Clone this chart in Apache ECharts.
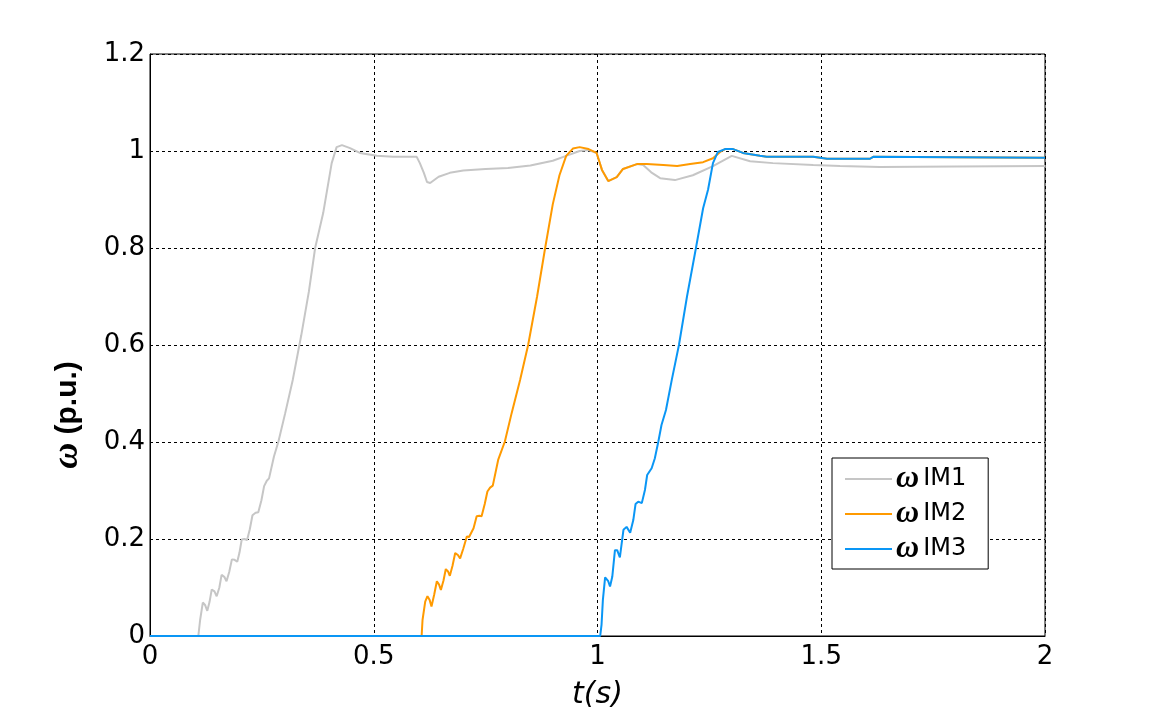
<!DOCTYPE html>
<html>
<head>
<meta charset="utf-8">
<script src="https://cdn.jsdelivr.net/npm/echarts@6/dist/echarts.min.js"></script>
<style>
  html, body { margin: 0; padding: 0; background: #fff; }
  #main { width: 1154px; height: 716px; }
</style>
</head>
<body>
<div id="main"></div>
<script>
// x tick labels and y tick labels
var xTicks = [0, 0.5, 1, 1.5, 2];
var yTicks = [0, 0.2, 0.4, 0.6, 0.8, 1, 1.2];

// IM1 speed (p.u.) vs time (s)
var im1T = [0, 0.108, 0.112, 0.118, 0.123, 0.128, 0.133, 0.138, 0.144, 0.149, 0.155, 0.160, 0.166, 0.171, 0.177, 0.183, 0.189, 0.195, 0.200, 0.205, 0.211, 0.217, 0.223, 0.229, 0.236, 0.242, 0.249, 0.255, 0.261, 0.266, 0.277, 0.287, 0.302, 0.319, 0.338, 0.355, 0.369, 0.387, 0.406, 0.417, 0.429, 0.447, 0.469, 0.507, 0.543, 0.596, 0.603, 0.612, 0.619, 0.626, 0.645, 0.67, 0.70, 0.75, 0.80, 0.85, 0.90, 0.93, 0.96, 0.98, 0.998, 1.01, 1.024, 1.043, 1.057, 1.088, 1.102, 1.12, 1.14, 1.173, 1.213, 1.258, 1.30, 1.341, 1.392, 1.482, 1.542, 1.631, 1.80, 2.0];
var im1V = [0, 0, 0.033, 0.069, 0.064, 0.052, 0.070, 0.096, 0.092, 0.082, 0.100, 0.126, 0.122, 0.113, 0.132, 0.158, 0.157, 0.153, 0.172, 0.199, 0.200, 0.198, 0.220, 0.249, 0.254, 0.255, 0.280, 0.309, 0.320, 0.325, 0.370, 0.401, 0.459, 0.528, 0.62, 0.71, 0.80, 0.872, 0.975, 1.008, 1.012, 1.006, 0.996, 0.990, 0.988, 0.988, 0.975, 0.955, 0.936, 0.934, 0.947, 0.955, 0.960, 0.963, 0.965, 0.970, 0.980, 0.990, 1.000, 1.002, 0.996, 0.961, 0.938, 0.946, 0.963, 0.973, 0.971, 0.956, 0.944, 0.940, 0.950, 0.969, 0.990, 0.979, 0.975, 0.971, 0.969, 0.967, 0.968, 0.969];

// IM2 speed
var im2T = [0, 0.607, 0.609, 0.615, 0.620, 0.625, 0.629, 0.635, 0.641, 0.646, 0.650, 0.656, 0.661, 0.666, 0.670, 0.676, 0.682, 0.688, 0.693, 0.700, 0.708, 0.713, 0.717, 0.723, 0.730, 0.736, 0.741, 0.748, 0.754, 0.760, 0.766, 0.778, 0.793, 0.808, 0.827, 0.845, 0.865, 0.883, 0.90, 0.915, 0.93, 0.945, 0.96, 0.98, 0.998, 1.01, 1.024, 1.043, 1.057, 1.088, 1.11, 1.147, 1.178, 1.207, 1.236, 1.258, 1.274, 1.285, 1.303, 1.325, 1.363, 1.378, 1.482, 1.513, 1.609, 1.616, 1.80, 2.0];
var im2V = [0, 0, 0.033, 0.071, 0.082, 0.074, 0.061, 0.085, 0.113, 0.106, 0.095, 0.115, 0.138, 0.133, 0.124, 0.145, 0.171, 0.167, 0.160, 0.180, 0.205, 0.204, 0.200, 0.222, 0.247, 0.248, 0.247, 0.272, 0.298, 0.306, 0.310, 0.363, 0.401, 0.459, 0.528, 0.60, 0.70, 0.80, 0.89, 0.95, 0.99, 1.005, 1.008, 1.004, 0.996, 0.961, 0.938, 0.946, 0.963, 0.973, 0.973, 0.971, 0.969, 0.973, 0.977, 0.985, 0.998, 1.004, 1.004, 0.996, 0.990, 0.988, 0.988, 0.984, 0.984, 0.988, 0.987, 0.986];

// IM3 speed
var im3T = [0, 1.006, 1.009, 1.012, 1.017, 1.020, 1.024, 1.028, 1.033, 1.039, 1.044, 1.050, 1.058, 1.065, 1.073, 1.080, 1.085, 1.091, 1.099, 1.106, 1.111, 1.121, 1.128, 1.136, 1.143, 1.153, 1.166, 1.182, 1.20, 1.22, 1.236, 1.247, 1.258, 1.269, 1.285, 1.303, 1.325, 1.363, 1.378, 1.482, 1.513, 1.609, 1.616, 1.80, 2.0];
var im3V = [0, 0, 0.023, 0.074, 0.121, 0.124, 0.113, 0.102, 0.122, 0.177, 0.177, 0.162, 0.219, 0.225, 0.213, 0.239, 0.272, 0.277, 0.274, 0.301, 0.332, 0.346, 0.366, 0.401, 0.435, 0.466, 0.528, 0.60, 0.70, 0.80, 0.882, 0.920, 0.975, 0.998, 1.004, 1.004, 0.996, 0.990, 0.988, 0.988, 0.984, 0.984, 0.988, 0.987, 0.986];

function pairs(t, v) {
    return t.map(function (x, i) { return [x, v[i]]; });
}

var tickFont = 'DejaVu Sans, Arial';

var chart = echarts.init(document.getElementById('main'));
var option = {
    animation: false,
    backgroundColor: '#fff',
    grid: {
        left: 150, top: 54, width: 895, height: 582,
        show: true, borderColor: '#000', borderWidth: 1
    },
    xAxis: {
        type: 'value', min: 0, max: 2, interval: 0.5,
        axisLine: { show: true, lineStyle: { color: '#000', width: 1 } },
        axisTick: { show: false },
        axisLabel: {
            color: '#000', fontSize: 26, fontFamily: tickFont, margin: 8,
            formatter: function (v) { return xTicks.indexOf(v) >= 0 ? String(v) : ''; }
        },
        splitLine: { show: true, lineStyle: { color: '#000', type: [3, 3], width: 1 } },
        name: 't(s)', nameLocation: 'middle', nameGap: 44,
        nameTextStyle: { color: '#000', fontSize: 30, fontStyle: 'italic', fontFamily: tickFont }
    },
    yAxis: {
        type: 'value', min: 0, max: 1.2, interval: 0.2,
        axisLine: { show: true, lineStyle: { color: '#000', width: 1 } },
        axisTick: { show: false },
        axisLabel: {
            color: '#000', fontSize: 26, fontFamily: tickFont, margin: 5,
            formatter: function (v) {
                var r = Math.round(v * 10) / 10;
                return yTicks.indexOf(r) >= 0 ? String(r) : '';
            }
        },
        splitLine: { show: true, lineStyle: { color: '#000', type: [3, 3], width: 1 } }
    },
    graphic: [{
        type: 'text',
        x: 68, y: 415,
        rotation: Math.PI / 2,
        style: {
            text: '{w|ω} (p.u.)',
            fill: '#000',
            font: 'bold 30px Liberation Sans, Arial',
            align: 'center',
            verticalAlign: 'middle',
            rich: {
                w: { fontFamily: 'Liberation Serif, Times New Roman', fontStyle: 'italic', fontWeight: 'bold', fontSize: 36, fill: '#000' }
            }
        }
    }],
    legend: {
        orient: 'vertical',
        left: 832, top: 458,
        padding: [5, 22, 4, 13],
        borderColor: '#000', borderWidth: 1, borderRadius: 0,
        backgroundColor: '#fff',
        itemWidth: 47, itemHeight: 2, itemGap: 3,
        icon: 'rect',
        formatter: function (name) { return '{w|ω}{n|' + name + '}'; },
        textStyle: {
            color: '#000', padding: [0, 0, 0, -1],
            rich: {
                w: { fontFamily: 'Liberation Serif, Times New Roman', fontStyle: 'italic', fontWeight: 'bold', fontSize: 32, color: '#000', padding: [0, 4, 0, 0] },
                n: { fontFamily: tickFont, fontSize: 24, color: '#000' }
            }
        },
        data: ['IM1', 'IM2', 'IM3']
    },
    series: [
        { name: 'IM1', type: 'line', data: pairs(im1T, im1V), showSymbol: false, lineStyle: { color: '#c6c6c6', width: 2 }, itemStyle: { color: '#c6c6c6' } },
        { name: 'IM2', type: 'line', data: pairs(im2T, im2V), showSymbol: false, lineStyle: { color: '#ff9a00', width: 2 }, itemStyle: { color: '#ff9a00' } },
        { name: 'IM3', type: 'line', data: pairs(im3T, im3V), showSymbol: false, lineStyle: { color: '#0a96f5', width: 2 }, itemStyle: { color: '#0a96f5' } }
    ]
};
chart.setOption(option);
</script>
</body>
</html>
